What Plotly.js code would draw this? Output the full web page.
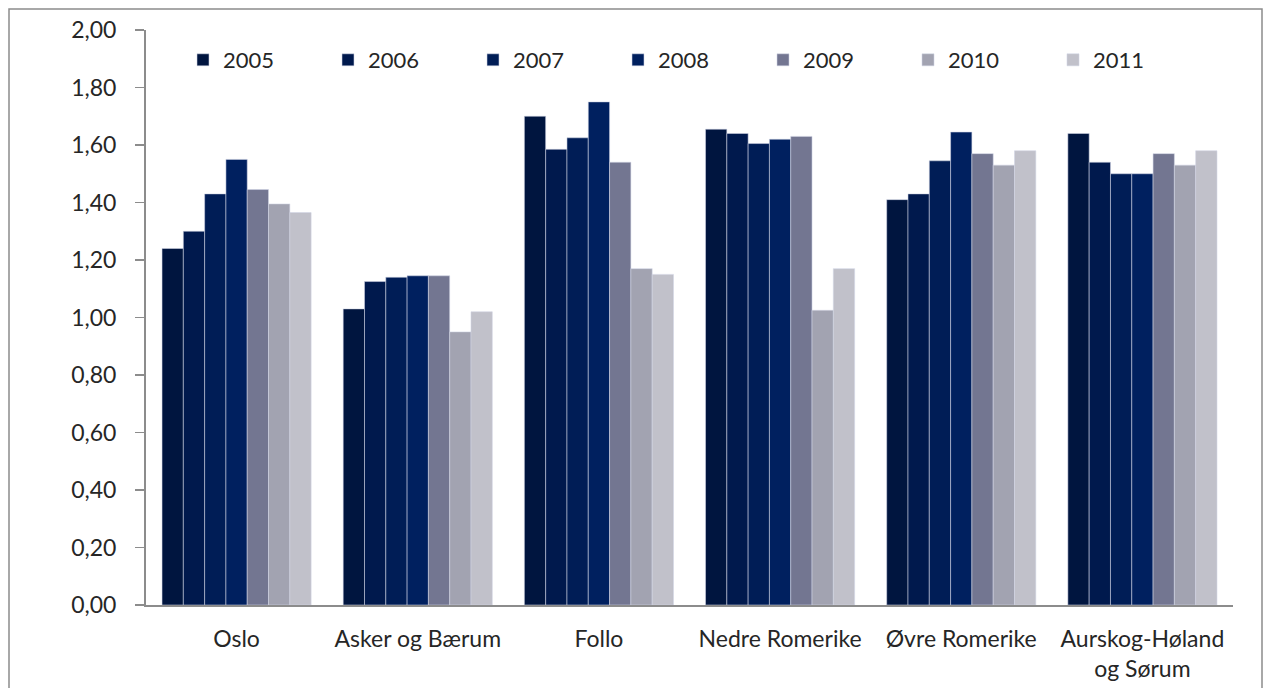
<!DOCTYPE html>
<html>
<head>
<meta charset="utf-8">
<script src="https://cdn.plot.ly/plotly-3.0.1.min.js"></script>
<style>
html,body{margin:0;padding:0;background:#fff;}
#chart{width:1263px;height:688px;}
</style>
</head>
<body>
<div id="chart"></div>
<script>
const categories = ["Oslo", "Asker og Bærum", "Follo", "Nedre Romerike", "Øvre Romerike", "Aurskog-Høland<br>og Sørum"];
const years = ["2005", "2006", "2007", "2008", "2009", "2010", "2011"];
const v2005 = [1.24, 1.03, 1.70, 1.655, 1.41, 1.64];
const v2006 = [1.30, 1.125, 1.585, 1.64, 1.43, 1.54];
const v2007 = [1.43, 1.14, 1.625, 1.605, 1.545, 1.50];
const v2008 = [1.55, 1.145, 1.75, 1.62, 1.645, 1.50];
const v2009 = [1.445, 1.145, 1.54, 1.63, 1.57, 1.57];
const v2010 = [1.395, 0.95, 1.17, 1.025, 1.53, 1.53];
const v2011 = [1.365, 1.02, 1.15, 1.17, 1.58, 1.58];
const series = [v2005, v2006, v2007, v2008, v2009, v2010, v2011];
const colors = ["#00153f", "#00194d", "#001d56", "#00205f", "#737691", "#a2a3b1", "#c1c1ca"];

const font = "Lato, 'Open Sans', sans-serif";

const traces = series.map((vals, i) => ({
  type: "bar",
  name: years[i],
  x: categories,
  y: vals,
  marker: {color: colors[i], line: {color: "rgba(210,214,230,0.55)", width: 1}},
  hoverinfo: "skip"
}));

const W = 1087, H = 575, L = 146, T = 30;
function px(x){ return (x - L) / W; }
function py(y){ return (T + H - y) / H; }

const layout = {
  width: 1263, height: 688,
  margin: {l: L, r: 1263 - L - W, t: T, b: 688 - T - H},
  paper_bgcolor: "#ffffff",
  plot_bgcolor: "#ffffff",
  separators: ",.",
  barmode: "group",
  bargap: 0.177,
  bargroupgap: 0,
  font: {family: font, size: 23, color: "#262626"},
  showlegend: true,
  legend: {
    orientation: "h",
    x: px(183), xanchor: "left",
    y: py(60), yanchor: "middle",
    entrywidth: 100, entrywidthmode: "pixels",
    font: {family: font, size: 22, color: "#262626"},
    bgcolor: "rgba(0,0,0,0)",
    traceorder: "normal"
  },
  xaxis: {
    type: "category",
    showline: true, linecolor: "#8c8c8c", linewidth: 2,
    ticks: "", showgrid: false, zeroline: false,
    tickfont: {family: font, size: 23, color: "#262626"},
    ticklabelstandoff: 12,
    fixedrange: true
  },
  yaxis: {
    range: [0, 2],
    tickvals: [0, 0.2, 0.4, 0.6, 0.8, 1.0, 1.2, 1.4, 1.6, 1.8, 2.0],
    tickformat: ".2f",
    showline: true, linecolor: "#8c8c8c", linewidth: 2,
    ticks: "outside", ticklen: 9, tickwidth: 1.5, tickcolor: "#8c8c8c",
    showgrid: false, zeroline: false,
    tickfont: {family: font, size: 23, color: "#262626"},
    ticklabelstandoff: 14,
    fixedrange: true
  },
  shapes: [{
    type: "rect", xref: "paper", yref: "paper",
    x0: px(9), x1: px(1262), y0: py(9), y1: py(720),
    line: {color: "#8c8c8c", width: 1.5},
    fillcolor: "rgba(0,0,0,0)",
    layer: "below"
  }]
};

Plotly.newPlot("chart", traces, layout, {displayModeBar: false, staticPlot: true});
</script>
</body>
</html>
